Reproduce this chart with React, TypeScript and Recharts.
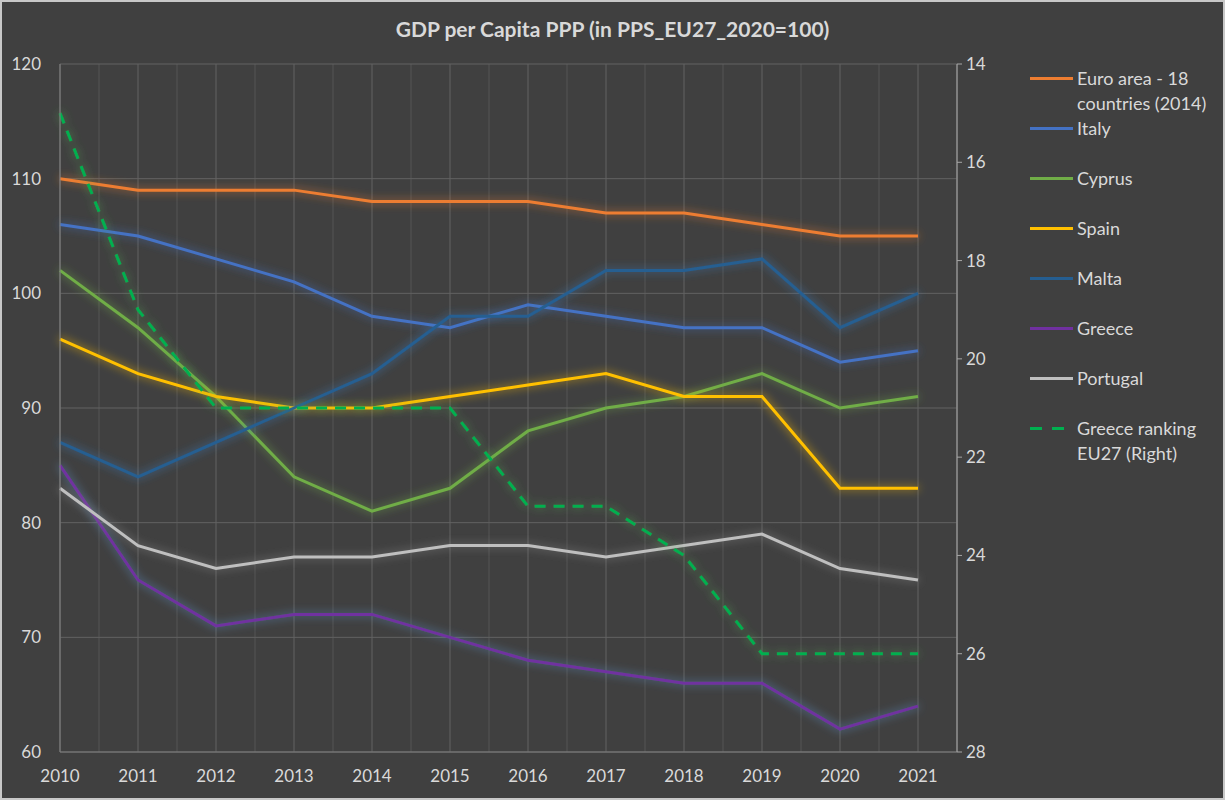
import { LineChart, Line, XAxis, YAxis, CartesianGrid, Legend } from 'recharts';

const years = [2010, 2011, 2012, 2013, 2014, 2015, 2016, 2017, 2018, 2019, 2020, 2021];
const euroArea = [110, 109, 109, 109, 108, 108, 108, 107, 107, 106, 105, 105];
const italy = [106, 105, 103, 101, 98, 97, 99, 98, 97, 97, 94, 95];
const cyprus = [102, 97, 91, 84, 81, 83, 88, 90, 91, 93, 90, 91];
const spain = [96, 93, 91, 90, 90, 91, 92, 93, 91, 91, 83, 83];
const malta = [87, 84, 87, 90, 93, 98, 98, 102, 102, 103, 97, 100];
const greece = [85, 75, 71, 72, 72, 70, 68, 67, 66, 66, 62, 64];
const portugal = [83, 78, 76, 77, 77, 78, 78, 77, 78, 79, 76, 75];
const greeceRanking = [15, 19, 21, 21, 21, 21, 23, 23, 24, 26, 26, 26];

const leftTicks = [60, 70, 80, 90, 100, 110, 120];
const rightTicks = [14, 16, 18, 20, 22, 24, 26, 28];
const minorTicks = [2010.5, 2011.5, 2012.5, 2013.5, 2014.5, 2015.5, 2016.5, 2017.5, 2018.5, 2019.5, 2020.5];

const series = [
  { key: 'euroArea', name: 'Euro area - 18 countries (2014)', color: '#ED7D31', glow: '#ED7D31', axis: 'left', dashed: false },
  { key: 'italy', name: 'Italy', color: '#4472C4', glow: '#4472C4', axis: 'left', dashed: false },
  { key: 'cyprus', name: 'Cyprus', color: '#70AD47', glow: '#70AD47', axis: 'left', dashed: false },
  { key: 'spain', name: 'Spain', color: '#FFC000', glow: '#FFC000', axis: 'left', dashed: false },
  { key: 'malta', name: 'Malta', color: '#255E91', glow: '#3A7CC0', axis: 'left', dashed: false },
  { key: 'greece', name: 'Greece', color: '#7030A0', glow: '#5B8FC8', axis: 'left', dashed: false },
  { key: 'portugal', name: 'Portugal', color: '#BFBFBF', glow: '#8C8C8C', axis: 'left', dashed: false },
  { key: 'greeceRanking', name: 'Greece ranking EU27 (Right)', color: '#00B050', glow: '#4FA84F', axis: 'right', dashed: true },
];

const data = years.map((year, i) => ({
  year,
  euroArea: euroArea[i],
  italy: italy[i],
  cyprus: cyprus[i],
  spain: spain[i],
  malta: malta[i],
  greece: greece[i],
  portugal: portugal[i],
  greeceRanking: greeceRanking[i],
}));

const textColor = '#D9D9D9';
const fontFamily = 'Lato, "Open Sans", sans-serif';

const LegendContent = () => (
  <div style={{ fontFamily, fontSize: 18, color: textColor }}>
    {series.map((s) => (
      <div key={s.key} style={{ display: 'flex', height: 50, alignItems: 'flex-start' }}>
        <svg width={70} height={25} style={{ flexShrink: 0 }}>
          <line
            x1={23}
            x2={66}
            y1={12.5}
            y2={12.5}
            stroke={s.color}
            strokeWidth={3}
            strokeDasharray={s.dashed ? '12 10' : undefined}
          />
        </svg>
        <div style={{ width: 140, lineHeight: '25px' }}>{s.name}</div>
      </div>
    ))}
  </div>
);

const glowCss = series.map((s) => `.glow-${s.key}{filter:url(#glow-${s.key})}`).join(' ');

export default function App() {
  return (
    <div
      style={{
        position: 'relative',
        width: 1225,
        height: 800,
        background: '#404040',
        boxShadow: 'inset 0 0 0 2px #C8C8C8',
      }}
    >
      <style>{'body{margin:0} ' + glowCss}</style>
      <div
        style={{
          position: 'absolute',
          top: 16,
          left: 0,
          width: 1225,
          textAlign: 'center',
          fontFamily,
          fontWeight: 700,
          fontSize: 21,
          color: textColor,
        }}
      >
        GDP per Capita PPP (in PPS_EU27_2020=100)
      </div>
      <LineChart width={1225} height={800} data={data} margin={{ top: 64, right: 18, bottom: 0, left: 0 }}>
        <defs>
          {series.map((s) => (
            <filter key={s.key} id={`glow-${s.key}`} filterUnits="userSpaceOnUse" x={-100} y={-100} width={1500} height={1000}>
              <feMorphology in="SourceAlpha" operator="dilate" radius={1} result="thick" />
              <feGaussianBlur in="thick" stdDeviation={4} result="blur" />
              <feFlood floodColor={s.glow} floodOpacity={0.45} />
              <feComposite in2="blur" operator="in" result="halo" />
              <feMerge>
                <feMergeNode in="halo" />
                <feMergeNode in="SourceGraphic" />
              </feMerge>
            </filter>
          ))}
        </defs>
        <CartesianGrid xAxisId="minor" yAxisId="left" horizontal={false} stroke="#545454" strokeWidth={1} />
        <CartesianGrid xAxisId={0} yAxisId="left" stroke="#626262" strokeWidth={1} />
        <XAxis xAxisId="minor" dataKey="year" type="number" domain={[2010, 2021.5]} ticks={minorTicks} hide />
        <XAxis
          dataKey="year"
          type="number"
          domain={[2010, 2021.5]}
          ticks={years}
          height={48}
          tickLine={false}
          tickSize={0}
          tickMargin={18}
          axisLine={{ stroke: '#7F7F7F' }}
          tick={{ fill: textColor, fontSize: 17, fontFamily }}
        />
        <YAxis
          yAxisId="left"
          domain={[60, 120]}
          ticks={leftTicks}
          width={60}
          tickLine={false}
          tickSize={0}
          tickMargin={19}
          axisLine={{ stroke: '#7F7F7F' }}
          tick={{ fill: textColor, fontSize: 17, fontFamily }}
        />
        <YAxis
          yAxisId="right"
          orientation="right"
          domain={[14, 28]}
          reversed
          ticks={rightTicks}
          width={50}
          tickSize={5}
          tickMargin={4}
          axisLine={{ stroke: '#A6A6A6' }}
          tickLine={{ stroke: '#A6A6A6' }}
          tick={{ fill: textColor, fontSize: 17, fontFamily }}
        />
        <Legend
          layout="vertical"
          align="right"
          verticalAlign="top"
          content={LegendContent}
          wrapperStyle={{ left: 1007, top: 66, width: 200 }}
        />
        {series.map((s) => (
          <Line
            key={s.key}
            className={`glow-${s.key}`}
            xAxisId={0}
            yAxisId={s.axis}
            dataKey={s.key}
            name={s.name}
            type="linear"
            stroke={s.color}
            strokeWidth={3}
            strokeDasharray={s.dashed ? '11 8' : undefined}
            dot={false}
            activeDot={false}
            isAnimationActive={false}
          />
        ))}
      </LineChart>
    </div>
  );
}
